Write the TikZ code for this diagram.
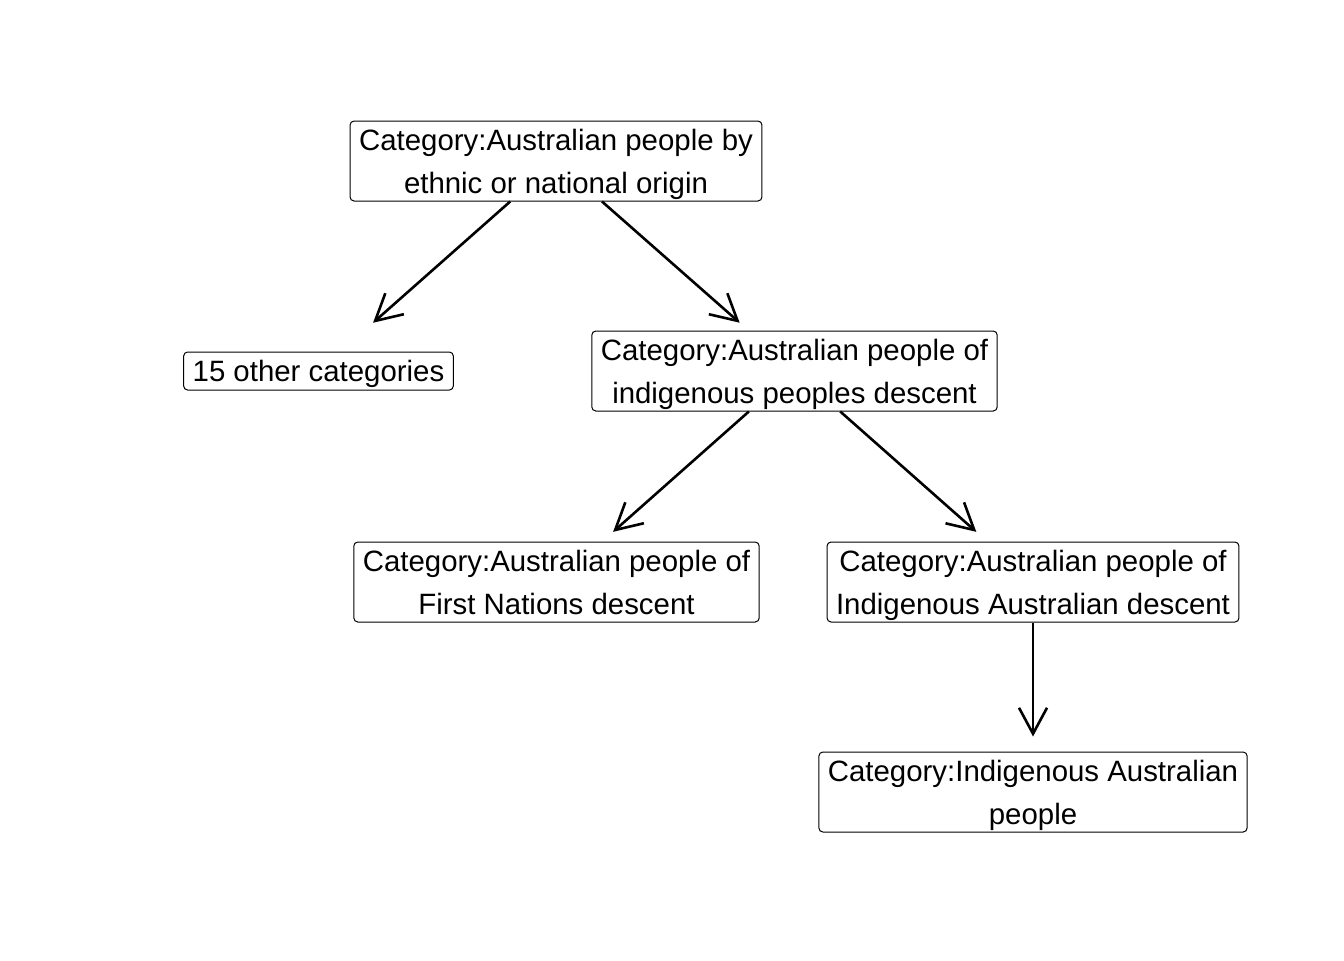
\documentclass[tikz,border=0pt]{standalone}
\usepackage{fontspec}
\setmainfont{Liberation Sans}
\usetikzlibrary{arrows.meta}
\newcommand{\catstrut}{\rule[-3.5pt]{0pt}{17.7pt}}
\begin{document}
\begin{tikzpicture}[x=0.5pt,y=-0.5pt,
    catbox/.style={draw,rounded corners=2pt,line width=0.5pt,inner xsep=4.5pt,inner ysep=0pt,
      align=center,font=\fontsize{14.7}{21.5}\selectfont},
    twoline/.style={catbox,minimum height=40pt},
    oneline/.style={catbox,minimum height=19pt},
    catarrow/.style={line width=1.3pt,-{Straight Barb[length=13pt,width=14pt,line width=1.3pt]}}]

      \useasboundingbox (0,0) rectangle (1344,960);

      \node[twoline] (origin)   at (556,161)  {\catstrut Category:Australian people by\\ethnic or national origin\catstrut};
      \node[oneline] (other)    at (318.5,371) {\catstrut 15 other categories};
      \node[twoline] (indig)    at (794.5,371) {\catstrut Category:Australian people of\\indigenous peoples descent\catstrut};
      \node[twoline] (first)    at (556.5,582) {\catstrut Category:Australian people of\\First Nations descent\catstrut};
      \node[twoline] (indaus)   at (1033,582) {\catstrut Category:Australian people of\\Indigenous Australian descent\catstrut};
      \node[twoline] (people)   at (1033,792) {\catstrut Category:Indigenous Australian\\people\catstrut};

      \draw[catarrow,shorten >=21.7pt] (origin) -- (other);
      \draw[catarrow,shorten >=5.9pt]  (origin) -- (indig);
      \draw[catarrow,shorten >=7.3pt]  (indig)  -- (first);
      \draw[catarrow,shorten >=7.3pt]  (indig)  -- (indaus);
      \draw[catarrow,shorten >=7.5pt]  (indaus) -- (people);

    \end{tikzpicture}
\end{document}
